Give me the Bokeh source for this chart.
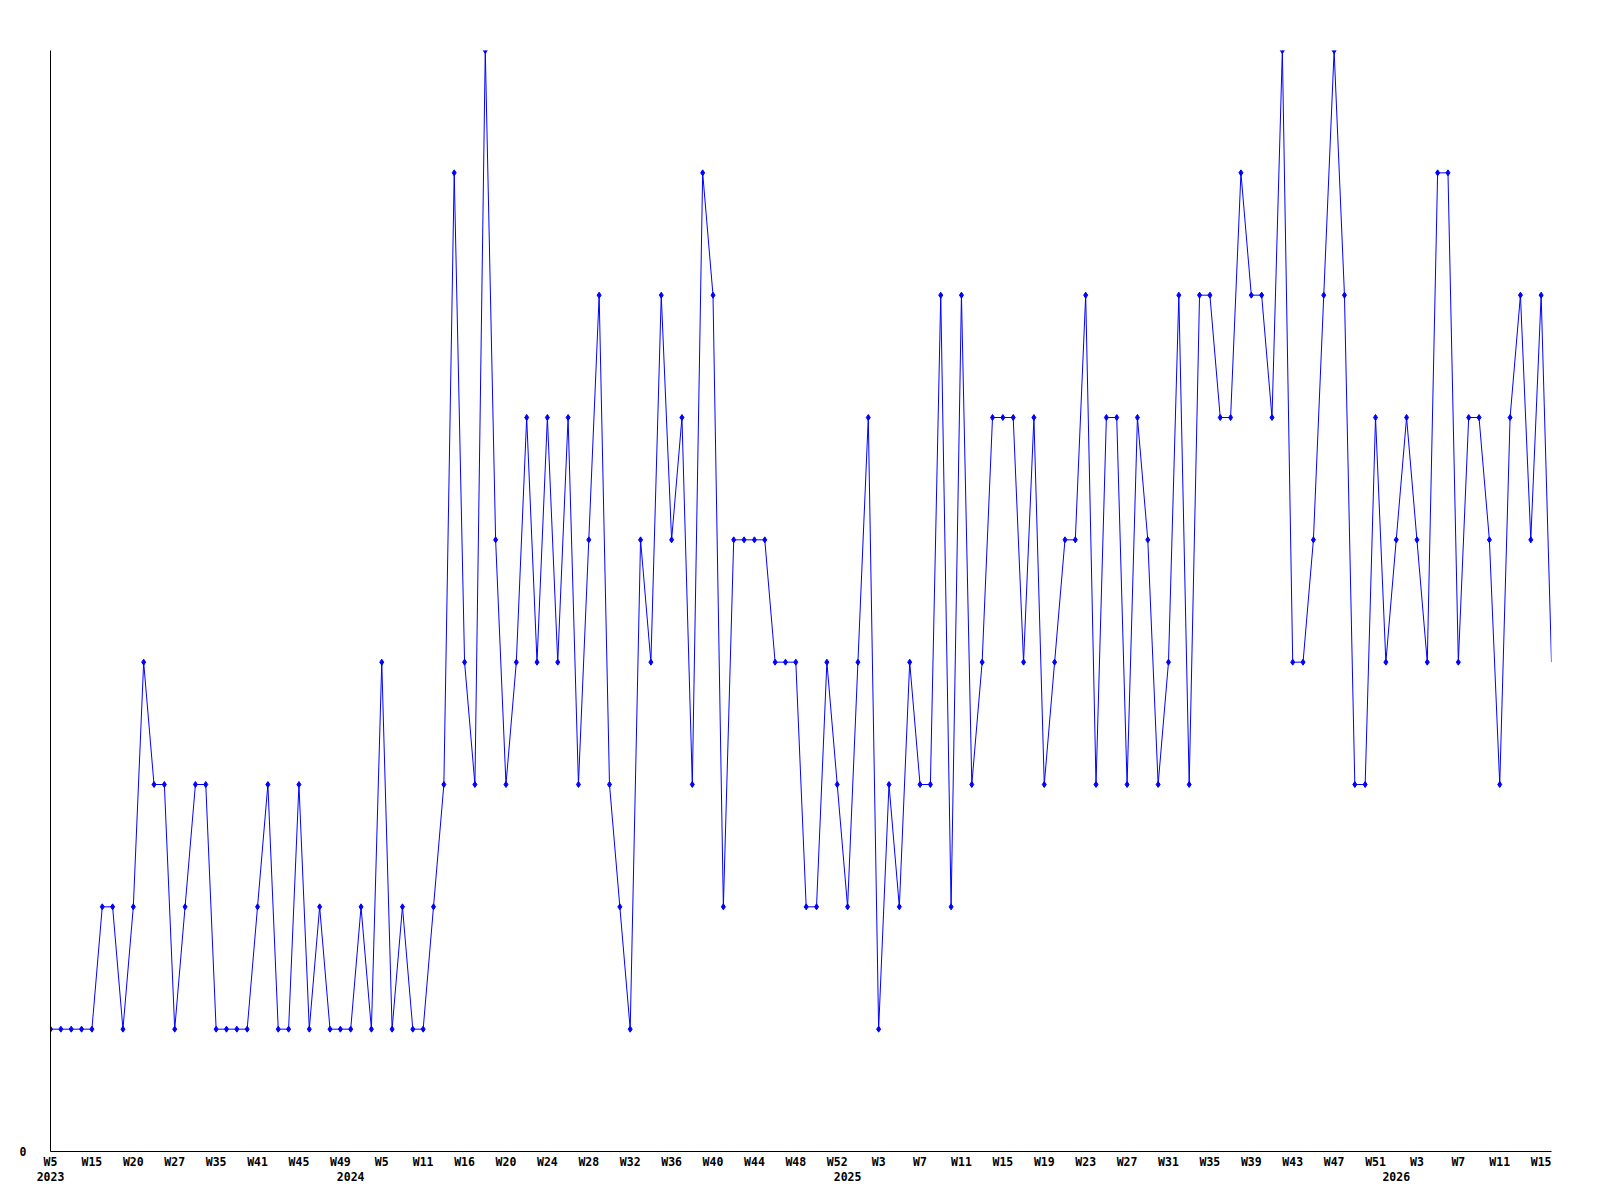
from bokeh.plotting import figure
from bokeh.models import Range1d, FixedTicker, LinearAxis, ColumnDataSource
from bokeh.embed import file_html
from bokeh.resources import INLINE

# ---- data (one point per week with activity) ----
weeks_2023 = ["W5", "W6", "W9", "W12", "W15", "W16", "W17", "W19", "W20", "W21",
              "W23", "W25", "W27", "W29", "W31", "W33", "W35", "W37", "W38", "W40",
              "W41", "W42", "W43", "W44", "W45", "W46", "W47", "W48", "W49"]
values_2023 = [1, 1, 1, 1, 1, 2, 2, 1, 2, 4, 3, 3, 1, 2, 3, 3, 1, 1, 1, 1,
               2, 3, 1, 1, 3, 1, 2, 1, 1]

weeks_2024 = ["W1", "W2", "W3", "W5", "W6", "W8", "W10", "W11", "W12", "W13",
              "W15", "W16", "W17", "W18", "W19", "W20"] + ["W%d" % n for n in range(21, 53)]
values_2024 = [1, 2, 1, 4, 1, 2, 1, 1, 2, 3, 8, 4, 3, 9, 5, 3, 4, 6, 4, 6,
               4, 6, 3, 5, 7, 3, 2, 1, 5, 4, 7, 5, 6, 3, 8, 7, 2, 5, 5, 5,
               5, 4, 4, 4, 2, 2, 4, 3]

weeks_2025 = ["W%d" % n for n in range(0, 53)]
values_2025 = [2, 4, 6, 1, 3, 2, 4, 3, 3, 7, 2, 7, 3, 4, 6, 6, 6, 4, 6, 3,
               4, 5, 5, 7, 3, 6, 6, 3, 6, 5, 3, 4, 7, 3, 7, 7, 6, 6, 8, 7,
               7, 6, 9, 4, 4, 5, 7, 9, 7, 3, 3, 6, 4]

weeks_2026 = ["W%d" % n for n in range(1, 17)]
values_2026 = [5, 6, 5, 4, 8, 8, 4, 6, 6, 5, 3, 6, 7, 5, 7, 4]

year_names = ["2023", "2024", "2025", "2026"]
week_groups = [weeks_2023, weeks_2024, weeks_2025, weeks_2026]
value_groups = [values_2023, values_2024, values_2025, values_2026]

weeks = [w for g in week_groups for w in g]
values = [v for g in value_groups for v in g]
idx = list(range(len(values)))

# first point index of every year
year_starts = []
pos = 0
for g in week_groups:
    year_starts.append(pos)
    pos += len(g)

LABEL_EVERY = 4
tick_idx = idx[::LABEL_EVERY]

FONT = "DejaVu Sans Mono"
FSIZE = "11.5px"

p = figure(frame_width=1501, frame_height=1101,
           min_border_left=50, min_border_top=50, min_border_right=40, min_border_bottom=50,
           x_range=Range1d(0, len(values) - 1), y_range=Range1d(0, max(values)),
           output_backend="svg", toolbar_location=None,
           x_axis_type=None, y_axis_type=None)
p.outline_line_color = None
p.background_fill_color = "white"
p.border_fill_color = "white"

line_src = ColumnDataSource(dict(x=idx, y=values))
mark_src = ColumnDataSource(dict(x=idx[:-1], y=values[:-1]))
p.line("x", "y", source=line_src, line_color="#0000ff", line_width=1)
p.scatter("x", "y", source=mark_src, marker="diamond", size=6,
          fill_color="#0000ff", line_color="#0000ff")


def style_axis(ax, standoff, line=True):
    ax.axis_line_color = "black" if line else None
    ax.axis_line_width = 1
    ax.major_tick_line_color = None
    ax.minor_tick_line_color = None
    ax.major_tick_out = 0
    ax.major_tick_in = 0
    ax.major_label_standoff = standoff
    ax.major_label_text_font = FONT
    ax.major_label_text_font_style = "bold"
    ax.major_label_text_font_size = FSIZE
    ax.major_label_text_color = "black"


# x axis: week labels
xa = LinearAxis(ticker=FixedTicker(ticks=tick_idx),
                major_label_overrides={i: weeks[i] for i in tick_idx})
style_axis(xa, 3)
p.add_layout(xa, "below")

# x axis: year labels
xy = LinearAxis(ticker=FixedTicker(ticks=year_starts),
                major_label_overrides={s: y for s, y in zip(year_starts, year_names)})
style_axis(xy, 0, line=False)
p.add_layout(xy, "below")

# y axis: only zero
yax = LinearAxis(ticker=FixedTicker(ticks=[0]))
style_axis(yax, 24)
p.add_layout(yax, "left")

p.xgrid.visible = False
p.ygrid.visible = False

open("out.html", "w").write(file_html(p, INLINE))
